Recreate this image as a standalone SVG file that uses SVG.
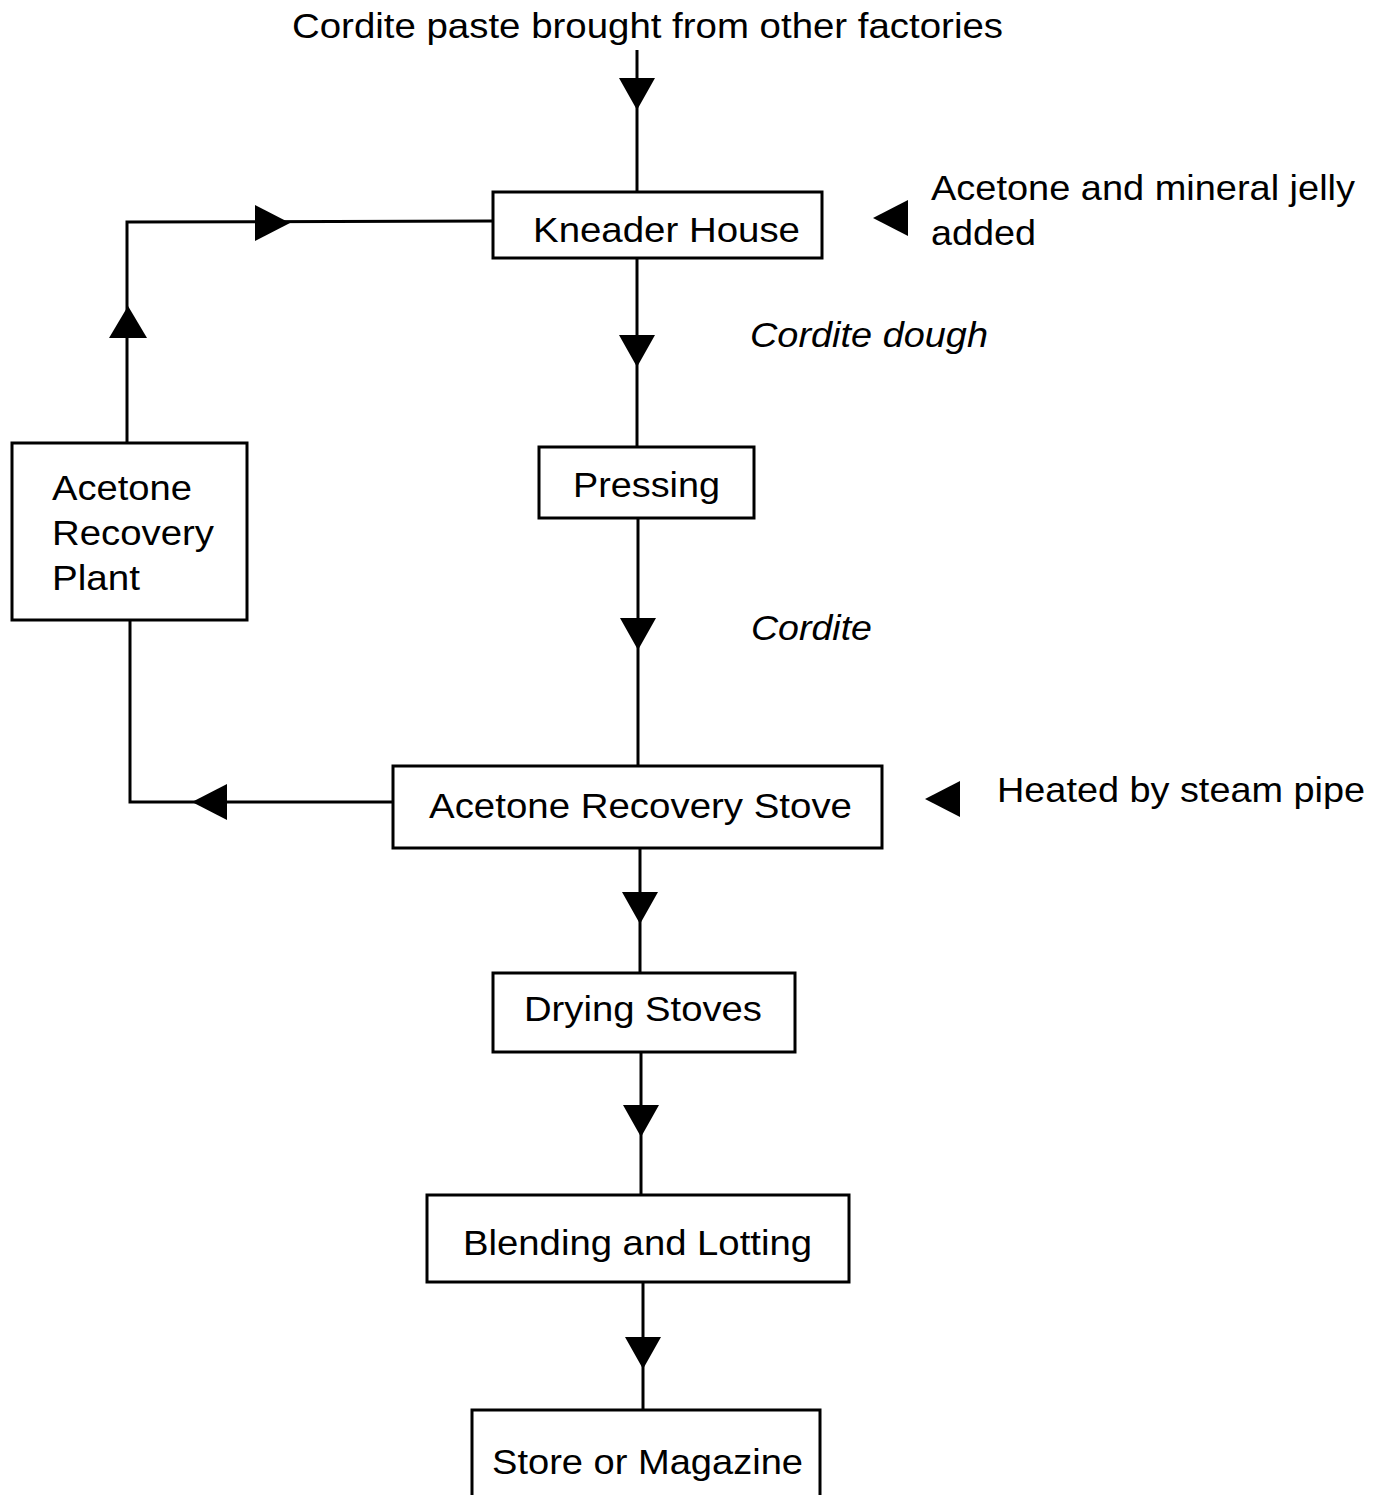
<svg xmlns="http://www.w3.org/2000/svg" xmlns:xlink="http://www.w3.org/1999/xlink" width="1380" height="1495" viewBox="0 0 1380 1495">
<style>
.bg{fill:#fff}
.box{fill:#fff;stroke:#000;stroke-width:3}
.ln{fill:none;stroke:#000;stroke-width:3;stroke-linejoin:miter}
.ar{fill:#000;stroke:none}
.t{font-family:"Liberation Sans",Arial,sans-serif;font-size:35px;fill:#000}
.i{font-style:italic}
</style>
<defs>
<polygon id="down" points="-18,0 18,0 0,32"/>
<polygon id="left" points="0,0 35,-18 35,18"/>
</defs>
<rect class="bg" x="0" y="0" width="1380" height="1495"/>

<g id="connectors">
<line class="ln" x1="637" y1="50" x2="637" y2="192"/>
<use class="ar" xlink:href="#down" x="637" y="78"/>
<line class="ln" x1="637" y1="258" x2="637" y2="447"/>
<use class="ar" xlink:href="#down" x="637" y="335"/>
<line class="ln" x1="638" y1="518" x2="638" y2="766"/>
<use class="ar" xlink:href="#down" x="638" y="618"/>
<line class="ln" x1="640" y1="848" x2="640" y2="973"/>
<use class="ar" xlink:href="#down" x="640" y="892"/>
<line class="ln" x1="641" y1="1052" x2="641" y2="1195"/>
<use class="ar" xlink:href="#down" x="641" y="1105"/>
<line class="ln" x1="643" y1="1282" x2="643" y2="1410"/>
<use class="ar" xlink:href="#down" x="643" y="1337"/>
<polyline class="ln" points="493,221 127,222 127,443"/>
<polygon class="ar" points="255,205 255,241 290,223"/>
<polygon class="ar" points="128,306 109,338 147,338"/>
<polyline class="ln" points="130,620 130,802 393,802"/>
<polygon class="ar" points="192,802 227,784 227,820"/>
<use class="ar" xlink:href="#left" x="873" y="218"/>
<use class="ar" xlink:href="#left" x="925" y="799"/>
</g>

<g id="source">
<text class="t" x="292" y="38" textLength="711" lengthAdjust="spacingAndGlyphs">Cordite paste brought from other factories</text>
</g>
<g id="kneader-house">
<rect class="box" x="493" y="192" width="329" height="66"/>
<text class="t" x="533" y="242" textLength="267" lengthAdjust="spacingAndGlyphs">Kneader House</text>
</g>
<g id="note-acetone-jelly">
<text class="t" x="931" y="200" textLength="424" lengthAdjust="spacingAndGlyphs">Acetone and mineral jelly</text>
<text class="t" x="931" y="245" textLength="105" lengthAdjust="spacingAndGlyphs">added</text>
</g>
<g id="label-cordite-dough">
<text class="t i" x="750" y="347" textLength="238" lengthAdjust="spacingAndGlyphs">Cordite dough</text>
</g>
<g id="pressing">
<rect class="box" x="539" y="447" width="215" height="71"/>
<text class="t" x="573" y="497" textLength="147" lengthAdjust="spacingAndGlyphs">Pressing</text>
</g>
<g id="acetone-recovery-plant">
<rect class="box" x="12" y="443" width="235" height="177"/>
<text class="t" x="52" y="500" textLength="140" lengthAdjust="spacingAndGlyphs">Acetone</text>
<text class="t" x="52" y="545" textLength="162" lengthAdjust="spacingAndGlyphs">Recovery</text>
<text class="t" x="52" y="590" textLength="88" lengthAdjust="spacingAndGlyphs">Plant</text>
</g>
<g id="label-cordite">
<text class="t i" x="751" y="640" textLength="121" lengthAdjust="spacingAndGlyphs">Cordite</text>
</g>
<g id="acetone-recovery-stove">
<rect class="box" x="393" y="766" width="489" height="82"/>
<text class="t" x="429" y="818" textLength="423" lengthAdjust="spacingAndGlyphs">Acetone Recovery Stove</text>
</g>
<g id="note-steam">
<text class="t" x="997" y="802" textLength="368" lengthAdjust="spacingAndGlyphs">Heated by steam pipe</text>
</g>
<g id="drying-stoves">
<rect class="box" x="493" y="973" width="302" height="79"/>
<text class="t" x="524" y="1021" textLength="238" lengthAdjust="spacingAndGlyphs">Drying Stoves</text>
</g>
<g id="blending-lotting">
<rect class="box" x="427" y="1195" width="422" height="87"/>
<text class="t" x="463" y="1255" textLength="349" lengthAdjust="spacingAndGlyphs">Blending and Lotting</text>
</g>
<g id="store-magazine">
<rect class="box" x="472" y="1410" width="348" height="100"/>
<text class="t" x="492" y="1474" textLength="311" lengthAdjust="spacingAndGlyphs">Store or Magazine</text>
</g>
</svg>
